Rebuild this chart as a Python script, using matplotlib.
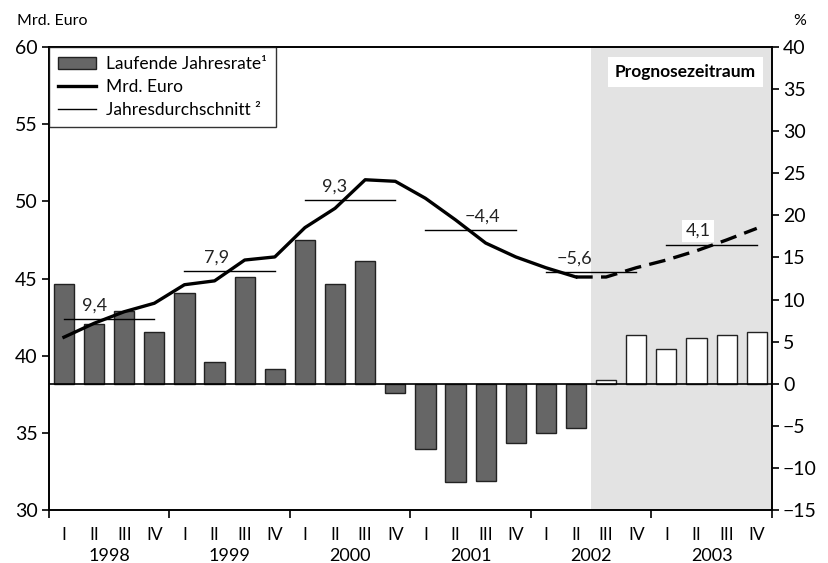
import matplotlib
matplotlib.use("Agg")
import matplotlib.pyplot as plt
from matplotlib.patches import Patch
from matplotlib.lines import Line2D
from matplotlib.transforms import blended_transform_factory
import numpy as np

plt.rcParams['font.family'] = ['Lato', 'DejaVu Sans']

years = ["1998", "1999", "2000", "2001", "2002", "2003"]
quarters = ["I", "II", "III", "IV"]

# Laufende Jahresrate (%), right axis
rate = [11.9, 7.1, 8.6, 6.1,
        10.8, 2.6, 12.7, 1.7,
        17.1, 11.8, 14.6, -1.1,
        -7.7, -11.7, -11.5, -7.0,
        -5.9, -5.2, 0.4, 5.8,
        4.1, 5.4, 5.8, 6.2]
# Mrd. Euro, left axis
mrd = [41.2, 42.1, 42.85, 43.4,
       44.6, 44.85, 46.2, 46.4,
       48.3, 49.55, 51.4, 51.3,
       50.2, 48.8, 47.3, 46.4,
       45.7, 45.1, 45.1, 45.7,
       46.2, 46.8, 47.5, 48.25]
# Jahresdurchschnitt (Mrd. Euro) and growth labels
year_avg = [42.35, 45.5, 50.1, 48.15, 45.4, 47.2]
year_avg_labels = ["9,4", "7,9", "9,3", "\u22124,4", "\u22125,6", "4,1"]

n_actual = 18  # quarters up to 2002 II are actual; rest forecast

fig = plt.figure(figsize=(8.29, 5.63), dpi=100)
ax = fig.add_axes([0.059, 0.094, 0.872, 0.8225])
ax2 = ax.twinx()
ax2.set_zorder(ax.get_zorder() - 1)
ax.patch.set_visible(False)

x = np.arange(len(rate))

# forecast shading
ax2.axvspan(n_actual - 0.5, len(rate) - 0.5, color='#e3e3e3', lw=0, zorder=0)

colors = ['#666666'] * n_actual + ['white'] * (len(rate) - n_actual)
ax2.bar(x, rate, width=0.67, color=colors, edgecolor='#222222', linewidth=1.0, zorder=2)
ax2.axhline(0, color='black', lw=1.2, zorder=3)
ax2.set_ylim(-15, 40)
ax2.set_yticks(np.arange(-15, 41, 5))

# line
ax.plot(x[:n_actual], mrd[:n_actual], color='black', lw=2.4, solid_joinstyle='round', zorder=5)
ax.plot(x[n_actual - 1:], mrd[n_actual - 1:], color='black', lw=2.4, dashes=(5, 2.5), zorder=5)
ax.set_ylim(30, 60)
ax.set_yticks(np.arange(30, 61, 5))
ax.set_xlim(-0.5, len(rate) - 0.5)

# yearly averages
label_off = [1.0, 1.05, 1.0, 1.9, 0.95, 1.05]
for i, (v, lab) in enumerate(zip(year_avg, year_avg_labels)):
    x0, x1 = 4 * i, 4 * i + 3
    ax.plot([x0, x1], [v, v], color='black', lw=1.0, zorder=4)
    bbox = dict(facecolor='white', edgecolor='none', pad=2.5) if i == 5 else None
    ax.annotate(lab, (4 * i + label_off[i], v), xytext=(0, 4), textcoords='offset points',
                ha='center', va='bottom', fontsize=13, color='#222222', bbox=bbox, zorder=6)

# x axis
ax.set_xticks(np.arange(-0.5, len(rate), 4))
ax.set_xticklabels([])
ax.tick_params(axis='x', which='major', length=6, width=1.2, direction='out')
ax.set_xticks(x, minor=True)
ax.set_xticklabels(quarters * len(years), minor=True, fontsize=12.5)
ax.tick_params(axis='x', which='minor', length=0, pad=12)
trans = blended_transform_factory(ax.transData, ax.transAxes)
for i, y in enumerate(years):
    ax.text(4 * i + 1.5, -0.1, y, transform=trans, ha='center', va='center', fontsize=13)

ax.tick_params(axis='y', length=5, width=1.2, labelsize=14, pad=3)
ax2.tick_params(axis='y', length=5, width=1.2, labelsize=14, pad=3)

for a in (ax, ax2):
    for s in a.spines.values():
        s.set_linewidth(1.2)

fig.text(0.020, 0.962, "Mrd. Euro", fontsize=11.5, ha='left', va='center')
fig.text(0.957, 0.962, "%", fontsize=11.5, ha='left', va='center')

ax.text(0.88, 0.946, "Prognosezeitraum", transform=ax.transAxes, ha='center', va='center',
        fontsize=12.5, fontweight='bold',
        bbox=dict(facecolor='white', edgecolor='none', pad=5), zorder=6)

handles = [Patch(facecolor='#666666', edgecolor='#222222', linewidth=1.0),
           Line2D([], [], color='black', lw=2.4),
           Line2D([], [], color='black', lw=1.0)]
labels = ["Laufende Jahresrate\u00b9", "Mrd. Euro", "Jahresdurchschnitt \u00b2"]
leg = ax.legend(handles, labels, loc='upper left', bbox_to_anchor=(0, 1), borderaxespad=0,
                fontsize=12.5, frameon=True, fancybox=False, handlelength=2.2,
                handletextpad=0.6, labelspacing=0.42, borderpad=0.5)
leg.get_frame().set_edgecolor('black')
leg.get_frame().set_linewidth(1.0)
leg.set_zorder(10)

fig.savefig("out.png", dpi=100)
